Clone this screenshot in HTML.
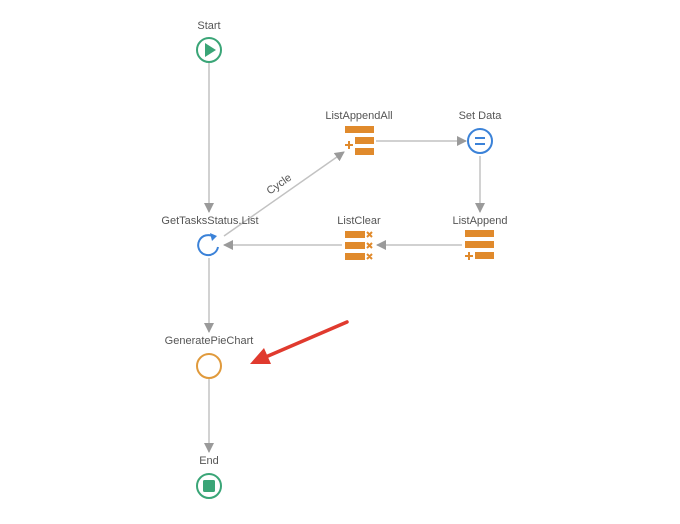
<!DOCTYPE html>
<html><head><meta charset="utf-8"><style>
html,body{margin:0;padding:0;background:#fff;}
svg{display:block}
text{font-family:"Liberation Sans",sans-serif;font-size:11px;fill:#555;text-anchor:middle}
</style></head><body>
<svg width="680" height="524" viewBox="0 0 680 524">
<defs>
<marker id="a" viewBox="0 0 10 10" refX="9" refY="5" markerWidth="10" markerHeight="10" orient="auto-start-reverse" markerUnits="userSpaceOnUse">
<path d="M0,0 L10,5 L0,10z" fill="#9a9a9a"/></marker>
</defs>
<g stroke="#c2c2c2" stroke-width="1.5" fill="none">
<line x1="209" y1="63" x2="209" y2="212" marker-end="url(#a)"/>
<line x1="209" y1="258" x2="209" y2="332" marker-end="url(#a)"/>
<line x1="209" y1="379" x2="209" y2="452" marker-end="url(#a)"/>
<line x1="224" y1="236" x2="344" y2="152" marker-end="url(#a)"/>
<line x1="376" y1="141" x2="466" y2="141" marker-end="url(#a)"/>
<line x1="480" y1="156" x2="480" y2="212" marker-end="url(#a)"/>
<line x1="462" y1="245" x2="377" y2="245" marker-end="url(#a)"/>
<line x1="342" y1="245" x2="224" y2="245" marker-end="url(#a)"/>
</g>
<text x="209" y="29">Start</text>
<text x="359" y="119">ListAppendAll</text>
<text x="480" y="119">Set Data</text>
<text x="210" y="224">GetTasksStatus.List</text>
<text x="359" y="224">ListClear</text>
<text x="480" y="224">ListAppend</text>
<text x="209" y="344">GeneratePieChart</text>
<text x="209" y="464">End</text>
<text x="281" y="187" transform="rotate(-35 281 187)">Cycle</text>
<circle cx="209" cy="50" r="12" fill="#fff" stroke="#3aa577" stroke-width="2"/>
<path d="M205,43 L216,50 L205,57z" fill="#3aa577"/>
<path d="M218,247 A10,10 0 1 1 214,237" fill="none" stroke="#3b82d8" stroke-width="2"/>
<path d="M210,233 L217,236 L212,241z" fill="#3b82d8"/>
<circle cx="209" cy="366" r="12" fill="#fff" stroke="#e09a3c" stroke-width="2"/>
<circle cx="209" cy="486" r="12" fill="#fff" stroke="#3aa577" stroke-width="2"/>
<rect x="203" y="480" width="12" height="12" rx="1.5" fill="#3aa577"/>
<circle cx="480" cy="141" r="12" fill="#fff" stroke="#3b82d8" stroke-width="2"/>
<line x1="475" y1="138" x2="485" y2="138" stroke="#3b82d8" stroke-width="2"/>
<line x1="475" y1="144" x2="485" y2="144" stroke="#3b82d8" stroke-width="2"/>
<g fill="#e08a2c">
<rect x="345" y="126" width="29" height="7"/>
<rect x="355" y="137" width="19" height="7"/>
<rect x="355" y="148" width="19" height="7"/>
<rect x="465" y="230" width="29" height="7"/>
<rect x="465" y="241" width="29" height="7"/>
<rect x="475" y="252" width="19" height="7"/>
<rect x="345" y="231" width="20" height="7"/>
<rect x="345" y="242" width="20" height="7"/>
<rect x="345" y="253" width="20" height="7"/>
</g>
<g stroke="#e08a2c" stroke-width="2">
<line x1="345" y1="145" x2="353" y2="145"/><line x1="349" y1="141" x2="349" y2="149"/>
<line x1="465" y1="256" x2="473" y2="256"/><line x1="469" y1="252" x2="469" y2="260"/>
<path d="M367,232 l5,5 M372,232 l-5,5 M367,243 l5,5 M372,243 l-5,5 M367,254 l5,5 M372,254 l-5,5"/>
</g>
<line x1="347" y1="322" x2="268" y2="356" stroke="#e03a2e" stroke-width="3.5" stroke-linecap="round"/>
<path d="M250,364 L264,348 L271,364z" fill="#e03a2e"/>
</svg>
</body></html>
